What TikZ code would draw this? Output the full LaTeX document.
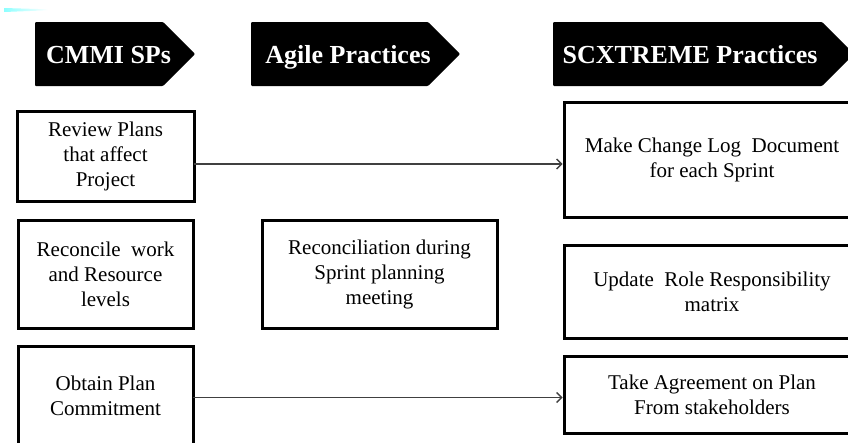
\documentclass[tikz,border=0pt]{standalone}
\usepackage{fontspec}
\setmainfont{Liberation Serif}
\usetikzlibrary{arrows.meta}
\begin{document}
\begin{tikzpicture}[x=1pt,y=-1pt,
  hdrfill/.style={fill=black, rounded corners=1pt},
  hdrtext/.style={text=white, font=\fontsize{26}{29}\selectfont\bfseries,
    inner sep=0pt, anchor=base},
  stepbox/.style={draw=black, line width=3pt, fill=white, align=center,
    font=\fontsize{21}{25}\selectfont, inner sep=0pt, outer sep=0pt},
  link/.style={draw=black!75, line width=1.5pt, shorten >=1.5pt,
    -{Straight Barb[length=5pt,width=10pt,line width=1.4pt]}}]
\useasboundingbox (0,0) rectangle (848,442);

% small accent streak in the corner
\shade[left color=cyan!45!white, right color=white]
  (4,8) -- (48,9.3) -- (48,10.3) -- (4,12) -- cycle;

% column headers
\fill[hdrfill] (35,22) -- (163,22) -- (195,54) -- (163,86) -- (35,86) -- cycle;
\node[hdrtext] (h1) at (108.5,63) {CMMI SPs};
\fill[hdrfill] (251,22) -- (428,22) -- (460,54) -- (428,86) -- (251,86) -- cycle;
\node[hdrtext] (h2) at (348,63) {Agile Practices};
\fill[hdrfill] (553,22) -- (822,22) -- (854,54) -- (822,86) -- (553,86) -- cycle;
\node[hdrtext] (h3) at (690,63) {SCXTREME Practices};

% CMMI specific practices
\node[stepbox, minimum width=177pt, minimum height=90pt] (rev) at (105.5,156)
  {Review Plans\\that affect\\Project};
\node[stepbox, minimum width=175pt, minimum height=108pt] (rec) at (105.5,274)
  {Reconcile\ \ work\\and Resource\\levels};
\node[stepbox, minimum width=175pt, minimum height=99pt] (obt) at (105.5,395.5)
  {Obtain Plan\\Commitment};

% agile practice
\node[stepbox, minimum width=235pt, minimum height=108pt] (agl) at (379.5,274)
  {Reconciliation during\\Sprint planning\\meeting};

% SCXTREME practices
\node[stepbox, minimum width=296pt, minimum height=115pt] (mcl) at (712,159.5)
  {Make Change Log\ \ Document\\for each Sprint};
\node[stepbox, minimum width=296pt, minimum height=93pt] (upd) at (712,291.5)
  {Update\ \ Role Responsibility\\matrix};
\node[stepbox, minimum width=296pt, minimum height=77pt] (tak) at (712,394.5)
  {Take Agreement on Plan\\From stakeholders};

% mappings
\draw[link] ([yshift=-8pt]rev.east) -- ([yshift=-8pt]rev.east -| mcl.west);
\draw[link] ([yshift=-2pt]obt.east) -- ([yshift=-2pt]obt.east -| tak.west);
\end{tikzpicture}
\end{document}
